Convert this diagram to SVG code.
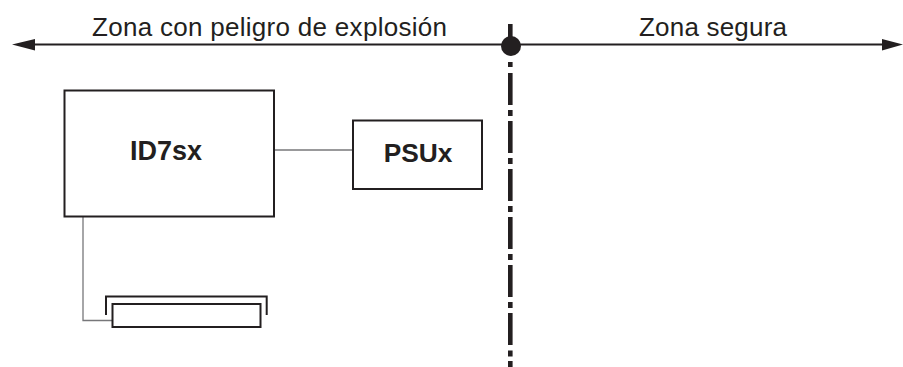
<svg xmlns="http://www.w3.org/2000/svg" width="903" height="367" viewBox="0 0 903 367">
<style>
.box{fill:#fff;stroke:#231f20;stroke-width:2}
.thin{fill:none;stroke:#77777a;stroke-width:1.3}
.t{font-family:"Liberation Sans",Arial,sans-serif;fill:#231f20;font-size:26px}
.b{font-family:"Liberation Sans",Arial,sans-serif;fill:#231f20;font-size:27px;font-weight:bold;text-anchor:middle}
.ink{fill:#231f20}
</style>
<rect width="903" height="367" fill="#fff"/>
<g id="connectors">
<path class="thin" d="M274 150H353"/>
<path class="thin" d="M83 216V320.500H112"/>
<path d="M35 44.500H882" fill="none" stroke="#231f20" stroke-width="2.200"/>
<polygon class="ink" points="12,44.500 35,39 35,50.500"/>
<polygon class="ink" points="903,44.500 882,39 882,50.500"/>
<path d="M510.300 24V44M510.300 62V67M510.300 73V105M510.300 110V116M510.300 121V153M510.300 158V164M510.300 169V201M510.300 206V212M510.300 217V249M510.300 254V260M510.300 265V297M510.300 302V308M510.300 313V345M510.300 350.500V356.500M510.300 361V367" fill="none" stroke="#231f20" stroke-width="4.600"/>
<circle class="ink" cx="511" cy="46" r="10"/>
</g>
<g id="zona-peligro"><text class="t" x="92" y="36" textLength="355">Zona con peligro de explosión</text></g>
<g id="zona-segura"><text class="t" x="639" y="36" textLength="148">Zona segura</text></g>
<g id="id7sx"><rect class="box" x="64.500" y="90.500" width="209.500" height="126"/><text class="b" x="166" y="160">ID7sx</text></g>
<g id="psux"><rect class="box" x="353" y="120.500" width="129" height="68.500"/><text class="b" x="418" y="162" style="font-size:26.300px">PSUx</text></g>
<g id="connector-block">
<path d="M106 315V296.500H266.700V315" fill="none" stroke="#231f20" stroke-width="2"/>
<rect class="box" x="112.500" y="304" width="148" height="23"/>
</g>
</svg>
